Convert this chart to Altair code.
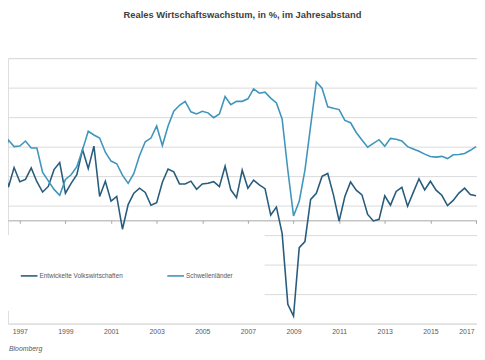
import altair as alt
import pandas as pd

# ---- data (quarterly, first point = 1996.0, step 0.25 year) ----
first_quarter = 1996.0
series_names = ["Entwickelte Volkswirtschaften", "Schwellenländer"]
developed = [
    2.2, 4.1, 2.25, 3.58, 2.62, 2.78, 3.55, 2.62, 1.92, 2.3,
    3.44, 3.92, 1.84, 2.51, 3.1, 4.8, 3.51, 5.03, 1.62, 2.65,
    1.3, 1.62, -0.6, 1.07, 1.84, 2.18, 1.89, 1.02, 1.2, 2.58,
    3.48, 3.29, 2.47, 2.47, 2.66, 2.11, 2.47, 2.51, 2.62, 2.29,
    3.67, 2.07, 1.54, 3.4, 2.18, 2.73, 2.4, 2.15, 0.36, 0.9,
    -0.88, -5.69, -6.49, -1.85, -1.44, 1.42, 1.84, 2.98, 3.18, 1.73,
    -0.05, 1.62, 2.6, 2.05, 1.73, 0.4, -0.04, 0.07, 1.67, 1.03,
    1.96, 2.24, 0.96, 1.9, 2.82, 2.07, 2.65, 2.05, 1.7, 1.0,
    1.35, 1.85, 2.18, 1.75, 1.67,
]
emerging = [
    3.3, 4.18, 5.45, 5.0, 5.04, 5.38, 4.91, 4.91, 3.25, 2.68,
    2.1, 1.7, 2.78, 3.09, 3.64, 4.78, 6.04, 5.79, 5.58, 4.62,
    4.02, 3.84, 3.07, 2.51, 3.18, 4.4, 5.33, 5.58, 6.4, 5.07,
    6.4, 7.4, 7.8, 8.07, 7.36, 7.22, 7.4, 7.29, 6.96, 7.22,
    8.4, 7.84, 8.07, 8.07, 8.24, 8.91, 8.62, 8.69, 8.29, 7.96,
    6.88, 3.4, 0.3, 1.29, 3.4, 6.4, 9.38, 8.96, 7.7, 7.6,
    7.51, 6.78, 6.62, 5.96, 5.45, 4.96, 5.22, 5.47, 5.03, 5.56,
    5.5, 5.38, 5.0, 4.84, 4.68, 4.49, 4.33, 4.29, 4.34, 4.19,
    4.45, 4.46, 4.53, 4.75, 5.0,
]
year_ticks = [1997, 1999, 2001, 2003, 2005, 2007, 2009, 2011, 2013, 2015, 2017]
grid_values = [-7, -5, -3, -1, 1, 3, 5, 7, 9, 11]
title_text = "Reales Wirtschaftswachstum, in %, im Jahresabstand"
source_text = ["Bloomberg"]

n = len(developed)
t = [first_quarter + i * 0.25 for i in range(n)]
df = pd.DataFrame({
    "t": t + t,
    "v": developed + emerging,
    "s": [series_names[0]] * n + [series_names[1]] * n,
})

FONT = "Liberation Sans"
x_domain = [1996.4828, 2017.0431]
x_scale = alt.Scale(domain=x_domain, nice=False, zero=False)

lines = alt.Chart(df).mark_line(strokeWidth=1.6, clip=True).encode(
    x=alt.X("t:Q", scale=x_scale,
            axis=alt.Axis(values=year_ticks, format="d", grid=False, domain=False,
                          ticks=False, tickSize=0, labelFontSize=7, labelColor="#595959",
                          labelPadding=4, labelFlush=5, labelFlushOffset=-2,
                          labelFont=FONT, title=None)),
    y=alt.Y("v:Q", scale=alt.Scale(domain=[-7, 11], nice=False, zero=False),
            axis=alt.Axis(values=grid_values, grid=True, gridColor="#d9d9d9", gridWidth=1,
                          labels=False, ticks=False, domain=False, title=None)),
    color=alt.Color("s:N", scale=alt.Scale(domain=series_names, range=["#285c7d", "#3f95bb"]),
                    legend=alt.Legend(orient="none", legendX=-20, legendY=180,
                                      direction="horizontal", title=None,
                                      fillColor="white", padding=32,
                                      symbolType="stroke", symbolSize=289,
                                      symbolStrokeWidth=1.6, labelFontSize=6.5,
                                      labelColor="#595959", labelFont=FONT,
                                      columnPadding=41, labelOffset=1)),
)

zero_axis = alt.Chart(pd.DataFrame({"t": year_ticks})).mark_point(opacity=0).encode(
    x=alt.X("t:Q", scale=x_scale,
            axis=alt.Axis(orient="bottom", offset=-105, values=year_ticks, labels=False,
                          ticks=True, tickSize=3, tickColor="#a6a6a6", domain=True,
                          domainColor="#a6a6a6", grid=False, title=None)),
)

source = alt.Chart(pd.DataFrame({"s": source_text})).mark_text(
    align="left", baseline="middle", fontStyle="italic", fontSize=7,
    color="#595959", font=FONT,
).encode(x=alt.value(1), y=alt.value(296), text="s:N")

chart = alt.layer(lines, zero_axis, source).resolve_axis(x="independent").properties(
    width=477, height=270,
    autosize=alt.AutoSizeParams(type="none"),
    padding={"left": 0, "right": 0, "top": 48, "bottom": 32},
    title=alt.TitleParams(title_text, fontSize=9.5, fontWeight="bold", color="#404040",
                          font=FONT, anchor="middle", offset=39),
).configure_view(stroke=None).configure(background="white")

chart.save("out.html", embed_options={"renderer": "svg", "actions": False})
